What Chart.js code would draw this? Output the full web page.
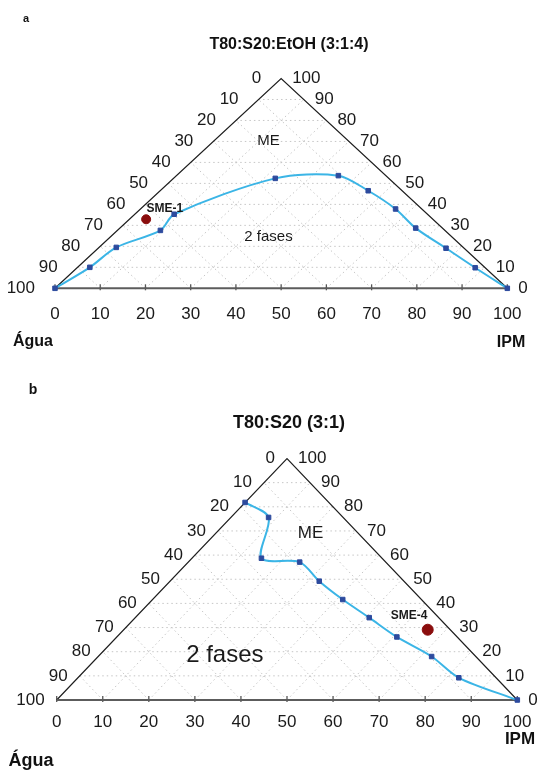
<!DOCTYPE html>
<html>
<head>
<meta charset="utf-8">
<script src="https://cdn.jsdelivr.net/npm/chart.js@4.4.1/dist/chart.umd.min.js"></script>
<style>
  body { margin: 0; background: #fff; width: 538px; height: 770px; position: relative; overflow: hidden;
         font-family: "Liberation Sans", Arial, sans-serif; color: #111; }
  canvas { position: absolute; left: 0; }
  .t { position: absolute; font-weight: bold; line-height: 1; white-space: nowrap; transform: translate(-50%, -50%); }
</style>
</head>
<body>
<canvas id="chartA" width="538" height="360" style="top:0"></canvas>
<canvas id="chartB" width="538" height="400" style="top:370px"></canvas>

<div class="t" style="left:26px;top:18px;font-size:11px">a</div>
<div class="t" style="left:289px;top:44px;font-size:16px">T80:S20:EtOH (3:1:4)</div>
<div class="t" style="left:33px;top:341px;font-size:16px">Água</div>
<div class="t" style="left:511px;top:342px;font-size:16px">IPM</div>

<div class="t" style="left:33px;top:389px;font-size:14px">b</div>
<div class="t" style="left:289px;top:422px;font-size:18px">T80:S20 (3:1)</div>
<div class="t" style="left:31px;top:760px;font-size:18px">Água</div>
<div class="t" style="left:520px;top:738px;font-size:17px">IPM</div>

<script>
// tick labels along each side of the triangle
const tickValues = [0, 10, 20, 30, 40, 50, 60, 70, 80, 90, 100];
const tickLabels = tickValues.map(String);
const gridLevels = [10, 20, 30, 40, 50, 60, 70, 80, 90];

// a: T80:S20:EtOH (3:1:4) -- surfactant mix % (apex) and IPM % (base)
const aSurfactant = [0, 10.0, 19.5, 27.6, 35.3, 52.4, 53.7, 46.5, 37.8, 28.7, 19.1, 9.8, 0];
const aOil        = [0, 2.7, 3.8, 9.5, 8.7, 22.5, 35.8, 46.0, 56.4, 65.4, 76.9, 88.0, 100];
const aSampleName = 'SME-1';
const aSampleSurfactant = [32.9];
const aSampleOil = [3.7];

// b: T80:S20 (3:1)
const bSurfactant = [81.8, 75.6, 58.7, 57.1, 49.2, 41.6, 34.1, 26.1, 18.0, 9.2, 0];
const bOil        = [0, 8.2, 15.1, 24.2, 32.4, 41.3, 50.8, 60.8, 72.4, 82.7, 100];
const bSampleName = 'SME-4';
const bSampleSurfactant = [29.1];
const bSampleOil = [66.0];

// ternary -> plot units (base = IPM axis, height = surfactant)
function toXY(surf, oil) {
  return { x: oil + surf / 2, y: surf };
}

function ternaryPlugin(opt) {
  return {
    id: 'ternary',
    beforeDatasetsDraw(chart) {
      const ctx = chart.ctx;
      const sx = chart.scales.x, sy = chart.scales.y;
      const px = (s, o) => [sx.getPixelForValue(o + s / 2), sy.getPixelForValue(s)];
      const seg = (p, q) => { ctx.beginPath(); ctx.moveTo(p[0], p[1]); ctx.lineTo(q[0], q[1]); ctx.stroke(); };

      ctx.save();
      ctx.strokeStyle = '#c6c6c6';
      ctx.lineWidth = 1;
      ctx.setLineDash([1.5, 3]);
      gridLevels.forEach(k => {
        seg(px(k, 0), px(k, 100 - k));
        seg(px(0, k), px(100 - k, k));
        seg(px(0, 100 - k), px(100 - k, 0));
      });
      ctx.setLineDash([]);
      ctx.strokeStyle = '#555';
      ctx.lineWidth = 1.3;
      tickValues.forEach(t => {
        const p = px(0, t);
        seg([p[0], p[1] - 4], [p[0], p[1] + 2]);
      });
      ctx.restore();
    },
    afterDatasetsDraw(chart) {
      const ctx = chart.ctx;
      const sx = chart.scales.x, sy = chart.scales.y;
      const px = (s, o) => [sx.getPixelForValue(o + s / 2), sy.getPixelForValue(s)];

      ctx.save();
      ctx.fillStyle = '#1a1a1a';
      ctx.font = opt.tickFont;
      ctx.textBaseline = 'middle';
      tickValues.forEach((t, i) => {
        // base (IPM)
        let p = px(0, t);
        ctx.textAlign = 'center';
        ctx.fillText(tickLabels[i], p[0], p[1] + opt.baseGap);
        // left side: 0 at apex, 100 at water corner
        p = px(100 - t, 0);
        ctx.textAlign = 'right';
        ctx.fillText(tickLabels[i], p[0] - opt.leftGap, p[1]);
        // right side: 100 at apex, 0 at IPM corner
        p = px(t, 100 - t);
        ctx.textAlign = 'left';
        ctx.fillText(tickLabels[i], p[0] + opt.rightGap, p[1]);
      });

      ctx.textAlign = 'center';
      opt.notes.forEach(n => {
        ctx.font = n.font;
        ctx.fillText(n.text, sx.getPixelForValue(n.x), sy.getPixelForValue(n.y));
      });
      ctx.restore();
    }
  };
}

function makeChart(id, surf, oil, sSurf, sOil, sampleR, padding, plugOpt) {
  const corners = [toXY(0, 0), toXY(100, 0), toXY(0, 100)];
  new Chart(document.getElementById(id), {
    type: 'scatter',
    data: {
      datasets: [
        {
          data: surf.map((s, i) => toXY(s, oil[i])),
          showLine: true,
          borderColor: '#3bb5e6',
          borderWidth: 2,
          tension: 0.3,
          pointStyle: 'rect',
          pointRadius: 3.2,
          pointBackgroundColor: '#2d4b9e',
          pointBorderColor: '#2d4b9e',
          pointBorderWidth: 1,
          clip: false,
          order: 1
        },
        {
          data: sSurf.map((s, i) => toXY(s, sOil[i])),
          pointRadius: sampleR,
          pointBackgroundColor: '#8a0d0d',
          pointBorderColor: '#8a0d0d',
          clip: false,
          order: 0
        },
        {
          data: corners,
          showLine: true,
          borderColor: '#1e1e1e',
          borderWidth: 1.2,
          pointRadius: 0,
          clip: false,
          order: 3
        },
        {
          data: [corners[0], corners[2]],
          showLine: true,
          borderColor: '#5c5c5c',
          borderWidth: 2,
          pointRadius: 0,
          clip: false,
          order: 2
        }
      ]
    },
    options: {
      responsive: false,
      animation: false,
      events: [],
      layout: { padding: padding },
      scales: {
        x: { type: 'linear', min: 0, max: 100, display: false },
        y: { type: 'linear', min: 0, max: 100, display: false }
      },
      plugins: { legend: { display: false }, tooltip: { enabled: false } }
    },
    plugins: [ternaryPlugin(plugOpt)]
  });
}

makeChart('chartA', aSurfactant, aOil, aSampleSurfactant, aSampleOil, 4.5,
  { left: 55, right: 30.7, top: 78.5, bottom: 71.7 },
  {
    tickFont: '17px "Liberation Sans", Arial, sans-serif',
    baseGap: 26, leftGap: 20, rightGap: 11,
    notes: [
      { text: 'ME', x: 47.2, y: 70.4, font: '15px "Liberation Sans", Arial, sans-serif' },
      { text: '2 fases', x: 47.2, y: 24.5, font: '15px "Liberation Sans", Arial, sans-serif' },
      { text: aSampleName, x: 24.3, y: 38.1, font: 'bold 12px "Liberation Sans", Arial, sans-serif' }
    ]
  });

makeChart('chartB', bSurfactant, bOil, bSampleSurfactant, bSampleOil, 5.5,
  { left: 56.7, right: 20.7, top: 88.5, bottom: 70 },
  {
    tickFont: '17px "Liberation Sans", Arial, sans-serif',
    baseGap: 22, leftGap: 12, rightGap: 11,
    notes: [
      { text: 'ME', x: 55.1, y: 69.0, font: '17px "Liberation Sans", Arial, sans-serif' },
      { text: '2 fases', x: 36.5, y: 18.5, font: '24px "Liberation Sans", Arial, sans-serif' },
      { text: bSampleName, x: 76.5, y: 35.1, font: 'bold 12px "Liberation Sans", Arial, sans-serif' }
    ]
  });
</script>
</body>
</html>
